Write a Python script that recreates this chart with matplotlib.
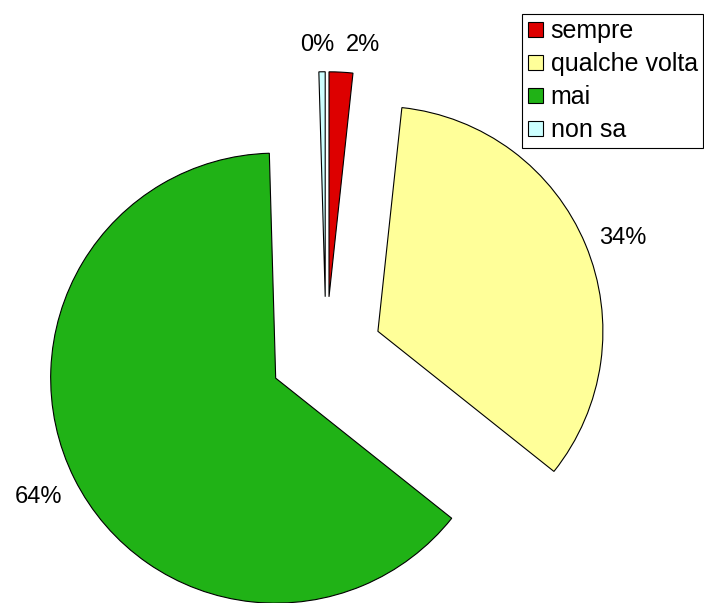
import matplotlib.pyplot as plt

plt.rcParams['font.family'] = ['Liberation Sans', 'DejaVu Sans']

labels = ['sempre', 'qualche volta', 'mai', 'non sa']
values = [1.7, 34.0, 63.85, 0.45]
colors = ['#DD0000', '#FFFF99', '#20B216', '#CCFFFF']

fig = plt.figure(figsize=(7.04, 6.03), dpi=100)
ax = fig.add_axes([0, 0, 1, 1])

wedges, texts, autotexts = ax.pie(
    values, colors=colors, explode=[0.25] * 4,
    startangle=90, counterclock=False,
    autopct='%1.0f%%', pctdistance=1.18,
    wedgeprops=dict(edgecolor='black', linewidth=0.8),
    textprops=dict(fontsize=17, color='black'))

# small slices: nudge their labels apart and down
x, y = autotexts[0].get_position()
autotexts[0].set_position((x + 0.09, y - 0.06))
x, y = autotexts[3].get_position()
autotexts[3].set_position((x - 0.02, y - 0.06))
x, y = autotexts[1].get_position()
autotexts[1].set_position((x, y - 0.04))

# pie center sits at pixel (326, 353), radius 225 px
ax.set_xlim(-326 / 225, (704 - 326) / 225)
ax.set_ylim(-(603 - 353) / 225, 353 / 225)
ax.set_aspect('auto')
ax.axis('off')

leg = ax.legend(wedges, labels, loc='upper right',
                bbox_to_anchor=(0.999, 0.977), bbox_transform=fig.transFigure,
                borderaxespad=0, fontsize=18, fancybox=False, shadow=False,
                handlelength=0.6, handleheight=0.6, handletextpad=0.32,
                labelspacing=0.36, borderpad=0.22, framealpha=1)
leg.get_frame().set_edgecolor('black')
leg.get_frame().set_linewidth(0.8)

fig.savefig('out.png', dpi=100)
